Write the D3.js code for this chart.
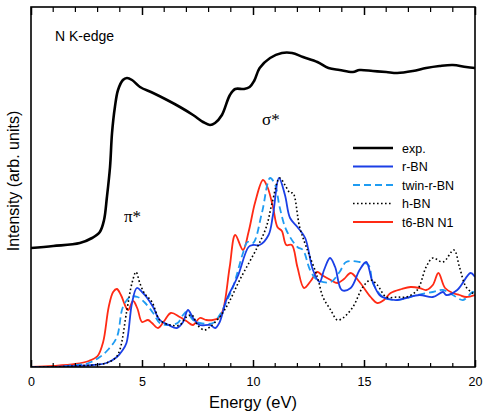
<!DOCTYPE html>
<html>
<head>
<meta charset="utf-8">
<script src="https://cdn.jsdelivr.net/npm/d3@7"></script>
<style>
  html, body { margin: 0; padding: 0; background: #fff; }
  svg { display: block; }
  text { font-family: "Liberation Sans", Arial, Helvetica, sans-serif; fill: #000; }
</style>
</head>
<body>
<script>
// ---------- data (energy in eV, intensity in arbitrary units) ----------
const xTicks = [0, 5, 10, 15, 20];

const expE = [0, 1, 2.2, 2.75, 3.1, 3.29, 3.42, 3.56, 3.65, 3.78, 3.92, 4.14, 4.32, 4.55, 4.91, 5.5, 6.13, 6.71, 7.3, 7.75, 8.06, 8.29, 8.6, 8.96, 9.2, 9.6, 9.85, 10.05, 10.3, 10.77, 11.3, 11.76, 12.25, 12.9, 13.4, 13.9, 14.5, 14.8, 15.4, 16.0, 16.5, 17.2, 17.8, 18.4, 19.0, 19.6, 20];
const expV = [119, 121, 124, 129, 135, 147, 170, 200, 234, 260, 277, 287, 289, 287, 280, 274, 267, 260, 252, 245, 242, 244, 252, 272, 278, 278, 280, 286, 299, 309, 314, 314, 310, 305, 299, 297, 295, 297, 296, 295, 294, 296, 299, 301, 302, 300, 299];

const rbnE = [0, 1, 2, 2.8, 3.4, 3.87, 4.1, 4.3, 4.55, 4.77, 5.0, 5.2, 5.5, 5.8, 6.2, 6.57, 6.85, 7.07, 7.3, 7.6, 8.06, 8.3, 8.5, 8.8, 9.3, 9.8, 10.0, 10.3, 10.7, 10.9, 11.17, 11.44, 11.67, 12.0, 12.35, 12.7, 13.0, 13.2, 13.47, 13.7, 14.0, 14.4, 14.8, 15.1, 15.36, 15.7, 16.1, 16.5, 16.9, 17.5, 18.1, 18.56, 18.7, 19.2, 19.8, 20];
const rbnV = [0, 0, 1, 2, 4, 10, 16, 24, 64, 79, 75, 70, 60, 47, 42, 39, 45, 57, 49, 42, 42, 39, 45, 67, 90, 120, 122, 122, 132, 152, 189, 172, 149, 140, 129, 97, 85, 97, 109, 100, 77, 79, 97, 105, 87, 72, 68, 67, 69, 72, 70, 75, 72, 77, 94, 90];

const twinE = [0, 1, 2, 2.6, 3.1, 3.5, 3.87, 4.14, 4.46, 4.8, 5.1, 5.5, 5.8, 6.1, 6.6, 6.85, 7.0, 7.3, 7.6, 8.2, 8.5, 8.9, 9.1, 9.55, 9.75, 10.0, 10.4, 10.77, 11.0, 11.2, 11.5, 12.0, 12.25, 12.57, 12.9, 13.5, 13.9, 14.2, 14.8, 15.2, 15.4, 15.85, 16.5, 17.4, 18.1, 18.56, 19.0, 19.46, 19.9, 20];
const twinV = [0, 0, 2, 4, 10, 18, 30, 60, 70, 70, 65, 54, 44, 42, 44, 52, 55, 47, 44, 44, 52, 70, 80, 114, 125, 124, 154, 189, 182, 160, 137, 120, 117, 97, 87, 85, 95, 105, 105, 102, 84, 70, 67, 72, 75, 77, 72, 67, 75, 74];

const hbnE = [0, 1, 2, 2.8, 3.4, 3.8, 4.0, 4.32, 4.55, 4.73, 4.9, 5.1, 5.45, 5.8, 6.26, 6.7, 7.0, 7.25, 7.5, 7.8, 8.06, 8.5, 8.9, 9.4, 10.2, 10.6, 10.86, 11.2, 11.44, 11.67, 11.8, 12.1, 12.4, 12.9, 13.15, 13.5, 13.8, 14.05, 14.5, 14.95, 15.3, 15.6, 16.0, 16.5, 16.9, 17.4, 17.8, 18.1, 18.56, 19.05, 19.3, 19.6, 20];
const hbnV = [0, 0, 1, 2, 4, 9, 17, 57, 84, 95, 84, 74, 65, 47, 42, 42, 50, 52, 42, 37, 40, 50, 64, 87, 120, 140, 164, 189, 182, 174, 174, 140, 120, 90, 70, 57, 47, 49, 60, 80, 87, 82, 70, 70, 70, 77, 100, 109, 105, 117, 100, 80, 72];

const t6E = [0, 1, 2, 2.6, 3.0, 3.25, 3.5, 3.7, 3.87, 4.05, 4.37, 4.6, 4.8, 5.0, 5.27, 5.45, 5.72, 6.0, 6.3, 6.7, 7.0, 7.3, 7.6, 7.9, 8.2, 8.45, 8.65, 8.95, 9.2, 9.55, 9.8, 10.1, 10.45, 10.65, 10.9, 11.1, 11.3, 11.5, 11.75, 12.0, 12.3, 12.6, 12.9, 13.1, 13.5, 13.8, 14.1, 14.4, 14.8, 15.3, 15.6, 15.9, 16.2, 16.7, 17.1, 17.5, 17.8, 18.1, 18.35, 18.65, 19.0, 19.3, 19.6, 20];
const t6V = [0, 1, 3, 6, 11, 25, 60, 75, 78, 72, 57, 66, 58, 45, 47, 44, 39, 46, 54, 50, 46, 42, 49, 47, 47, 49, 57, 100, 132, 117, 135, 165, 187, 180, 160, 140, 136, 122, 122, 100, 79, 86, 95, 92, 87, 84, 88, 94, 85, 70, 64, 67, 74, 78, 80, 79, 77, 82, 94, 79, 74, 72, 70, 72];

const seriesNames = ["exp.", "r-BN", "twin-r-BN", "h-BN", "t6-BN N1"];

// ---------- layout ----------
const W = 491, H = 414;
const mLeft = 31, mRight = 475, mTop = 7, mBottom = 367;

const svg = d3.select("body").append("svg").attr("width", W).attr("height", H);

const x = d3.scaleLinear().domain([0, 20]).range([mLeft, mRight]);
const y = d3.scaleLinear().domain([0, 360]).range([mBottom, mTop]);

const styles = {
  "exp.":      { color: "#000000", width: 2.6, dash: null },
  "r-BN":      { color: "#1b3fe6", width: 1.8, dash: null },
  "twin-r-BN": { color: "#1f9cf2", width: 1.8, dash: "7,4" },
  "h-BN":      { color: "#000000", width: 1.6, dash: "1.6,2.4" },
  "t6-BN N1":  { color: "#ff2a14", width: 1.8, dash: null }
};

const seriesData = {
  "exp.": d3.zip(expE, expV),
  "r-BN": d3.zip(rbnE, rbnV),
  "twin-r-BN": d3.zip(twinE, twinV),
  "h-BN": d3.zip(hbnE, hbnV),
  "t6-BN N1": d3.zip(t6E, t6V)
};

svg.append("defs").append("clipPath").attr("id", "clip")
  .append("rect").attr("x", mLeft).attr("y", mTop).attr("width", mRight - mLeft).attr("height", mBottom - mTop);

const line = d3.line().x(d => x(d[0])).y(d => y(d[1])).curve(d3.curveCatmullRom.alpha(0.5));

const g = svg.append("g").attr("clip-path", "url(#clip)");
["t6-BN N1", "twin-r-BN", "r-BN", "h-BN", "exp."].forEach(name => {
  const s = styles[name];
  g.append("path")
    .datum(seriesData[name])
    .attr("d", line)
    .attr("fill", "none")
    .attr("stroke", s.color)
    .attr("stroke-width", s.width)
    .attr("stroke-dasharray", s.dash)
    .attr("stroke-linejoin", "round");
});

// ---------- axes ----------
const minorTicks = d3.range(0, 21, 1);
const axisBottom = d3.axisBottom(x).tickValues(xTicks).tickSize(-7).tickPadding(10).tickFormat(d3.format("d"));
const axisTop = d3.axisTop(x).tickValues(xTicks).tickSize(-8).tickFormat("");

const gb = svg.append("g").attr("transform", `translate(0,${mBottom})`).call(axisBottom);
gb.select(".domain").remove();
gb.selectAll("line").attr("stroke", "#000").attr("stroke-width", 1.5);
gb.selectAll("text").style("font-size", "12.5px").attr("fill", "#000");

gb.selectAll(".minor").data(minorTicks.filter(v => v % 5 !== 0)).enter()
  .append("line").attr("class", "minor")
  .attr("x1", d => x(d)).attr("x2", d => x(d)).attr("y1", 0).attr("y2", -4)
  .attr("stroke", "#000").attr("stroke-width", 1.2);

const gt = svg.append("g").attr("transform", `translate(0,${mTop})`).call(axisTop);
gt.select(".domain").remove();
gt.selectAll("line").attr("stroke", "#000").attr("stroke-width", 1.5);
gt.selectAll(".minor").data(minorTicks.filter(v => v % 5 !== 0)).enter()
  .append("line").attr("class", "minor")
  .attr("x1", d => x(d)).attr("x2", d => x(d)).attr("y1", 0).attr("y2", 5)
  .attr("stroke", "#000").attr("stroke-width", 1.2);

// frame
svg.append("rect").attr("x", mLeft).attr("y", mTop).attr("width", mRight - mLeft).attr("height", mBottom - mTop)
  .attr("fill", "none").attr("stroke", "#000").attr("stroke-width", 1.6);

// axis titles
svg.append("text").attr("x", (mLeft + mRight) / 2).attr("y", 408).attr("text-anchor", "middle")
  .style("font-size", "16.5px").text("Energy (eV)");
svg.append("text").attr("transform", `translate(19,${(mTop + mBottom) / 2 - 6}) rotate(-90)`)
  .attr("text-anchor", "middle").style("font-size", "16px").text("Intensity (arb. units)");

// annotations
svg.append("text").attr("x", 55).attr("y", 41).style("font-size", "14px").text("N K-edge");
svg.append("text").attr("x", 262).attr("y", 125).style("font-size", "17px")
  .style("font-family", "'Liberation Serif', 'Times New Roman', serif").text("σ*");
svg.append("text").attr("x", 124).attr("y", 222).style("font-size", "17px")
  .style("font-family", "'Liberation Serif', 'Times New Roman', serif").text("π*");

// legend
const legY0 = 148, legDy = 18.5;
const lg = svg.append("g");
seriesNames.forEach((name, i) => {
  const s = styles[name];
  const yy = legY0 + i * legDy;
  lg.append("line").attr("x1", 353).attr("x2", 393).attr("y1", yy).attr("y2", yy)
    .attr("stroke", s.color).attr("stroke-width", s.width)
    .attr("stroke-dasharray", s.dash);
  lg.append("text").attr("x", 402).attr("y", yy + 4.5).style("font-size", "12.5px").text(name);
});
</script>
</body>
</html>
